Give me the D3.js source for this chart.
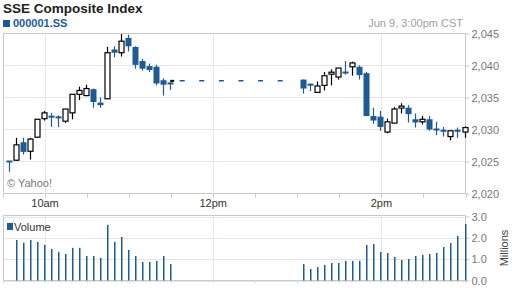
<!DOCTYPE html>
<html>
<head>
<meta charset="utf-8">
<script src="https://cdn.jsdelivr.net/npm/d3@7"></script>
<style>
  body { margin: 0; background: #fff; }
  svg { display: block; font-family: Arial, "Liberation Sans", sans-serif; }
</style>
</head>
<body>
<svg id="chart" width="512" height="288"></svg>
<script>
// =========================
// DATI
// =========================
const times = [
  "09:35", "09:40", "09:45", "09:50", "09:55", "10:00", "10:05", "10:10", "10:15", "10:20", "10:25", "10:30",
  "10:35", "10:40", "10:45", "10:50", "10:55", "11:00", "11:05", "11:10", "11:15", "11:20", "11:25", "11:30",
  "13:05", "13:10", "13:15", "13:20", "13:25", "13:30", "13:35", "13:40", "13:45", "13:50", "13:55", "14:00",
  "14:05", "14:10", "14:15", "14:20", "14:25", "14:30", "14:35", "14:40", "14:45", "14:50", "14:55", "15:00"
];
const opens = [
  2025.0, 2025.2, 2028.0, 2026.6, 2028.8, 2031.7, 2032.0, 2031.9, 2031.3, 2032.6, 2035.5, 2035.3,
  2036.3, 2034.2, 2034.8, 2042.5, 2042.0, 2044.3, 2042.9, 2040.7, 2039.9, 2039.8, 2037.7, 2037.2,
  2037.8, 2037.0, 2035.8, 2036.9, 2038.5, 2038.2, 2038.9, 2039.8, 2039.8, 2038.8, 2032.1, 2032.0,
  2029.6, 2031.0, 2033.2, 2033.4, 2031.6, 2031.2, 2031.6, 2030.0, 2029.8, 2028.9, 2029.8, 2029.6
];
const highs = [
  2025.0, 2028.7, 2028.7, 2028.7, 2031.6, 2032.9, 2032.6, 2032.2, 2033.2, 2035.5, 2036.7, 2037.0,
  2036.4, 2035.0, 2042.9, 2043.0, 2044.9, 2044.8, 2043.0, 2041.0, 2040.3, 2040.1, 2038.0, 2037.4,
  2037.8, 2037.2, 2037.5, 2039.0, 2039.4, 2039.6, 2040.7, 2040.6, 2040.0, 2039.0, 2033.4, 2032.9,
  2031.7, 2033.5, 2034.1, 2033.8, 2032.5, 2032.1, 2032.1, 2031.2, 2030.4, 2029.8, 2030.3, 2030.5
];
const lows = [
  2023.4, 2025.1, 2026.1, 2025.3, 2028.7, 2031.4, 2030.4, 2030.4, 2031.0, 2031.6, 2034.6, 2035.2,
  2033.4, 2033.4, 2034.8, 2041.3, 2041.4, 2042.2, 2039.5, 2039.2, 2039.0, 2036.9, 2035.3, 2036.2,
  2035.6, 2036.0, 2035.8, 2036.1, 2036.9, 2037.8, 2038.6, 2038.4, 2037.8, 2032.1, 2030.9, 2029.8,
  2029.4, 2031.0, 2032.5, 2031.1, 2030.3, 2030.8, 2029.8, 2029.1, 2028.9, 2028.3, 2028.7, 2028.7
];
const closes = [
  2024.9, 2027.6, 2026.5, 2028.5, 2031.6, 2032.6, 2031.9, 2031.6, 2033.2, 2035.5, 2036.1, 2036.4,
  2034.3, 2033.8, 2042.0, 2042.0, 2043.8, 2043.0, 2040.1, 2039.5, 2039.3, 2037.2, 2037.0, 2037.1,
  2036.4, 2036.9, 2036.8, 2038.4, 2038.8, 2039.6, 2038.8, 2040.4, 2038.5, 2032.1, 2031.4, 2030.4,
  2031.2, 2033.2, 2033.5, 2032.4, 2031.1, 2031.6, 2030.0, 2029.9, 2029.7, 2029.8, 2029.7, 2030.3
];
// volume in milioni
const volumes = [
  null, 1.90, 1.77, 1.90, 1.81, 1.67, 1.48, 1.34, 1.24, 1.53, 1.53, 1.15,
  1.15, 1.06, 2.61, 1.81, 2.04, 1.43, 1.15, 0.87, 0.87, 0.92, 1.15, 0.77,
  0.77, 0.54, 0.63, 0.73, 0.82, 0.82, 0.92, 0.92, 0.92, 1.67, 1.71, 1.34,
  1.29, 1.10, 0.96, 1.01, 1.15, 1.20, 1.24, 1.29, 1.57, 1.76, 2.09, 2.65
];
const priceTicks = [2020, 2025, 2030, 2035, 2040, 2045];
const volumeTicks = [0, 1, 2, 3];
const timeLabels = ["10:00", "12:00", "14:00"];
const timeLabelText = ["10am", "12pm", "2pm"];
const breakStart = "11:30";
const breakEnd = "13:00";
const breakLevel = 2037.6;

const blue = "#1d5a96";
const gridColor = "#e3e7ec";
const frameColor = "#c9c9c9";

const parseTime = d3.timeParse("%H:%M");
const data = times.map((t, i) => ({
  time: parseTime(t),
  open: opens[i], high: highs[i], low: lows[i], close: closes[i],
  volume: volumes[i]
}));

// =========================
// SCALE
// =========================
const left = 3, right = 465.5;
const x = d3.scaleTime()
  .domain([parseTime("09:30"), parseTime("15:00")])
  .range([left, right]);

const y = d3.scaleLinear().domain([2020, 2045]).range([193.5, 33.5]);
const yVol = d3.scaleLinear().domain([0, 3]).range([280.5, 216.5]);

const svg = d3.select("#chart");
const halfHours = d3.timeMinute.every(30).range(parseTime("09:30"), parseTime("15:01"));

// =========================
// TITOLO
// =========================
svg.append("text")
  .attr("x", 3).attr("y", 13)
  .attr("font-size", 13.5).attr("font-weight", "bold").attr("fill", "#222")
  .text("SSE Composite Index");

svg.append("rect").attr("x", 3).attr("y", 20).attr("width", 7).attr("height", 7).attr("fill", blue);
svg.append("text")
  .attr("x", 13).attr("y", 27)
  .attr("font-size", 11).attr("font-weight", "bold").attr("fill", blue)
  .text("000001.SS");

svg.append("text")
  .attr("x", 463).attr("y", 27)
  .attr("text-anchor", "end")
  .attr("font-size", 11).attr("fill", "#a0a0a0")
  .text("Jun 9, 3:00pm CST");

// =========================
// PANNELLO PREZZI
// =========================
const main = svg.append("g");

main.selectAll(".hgrid")
  .data(priceTicks)
  .join("line")
  .attr("x1", left).attr("x2", right)
  .attr("y1", d => y(d)).attr("y2", d => y(d))
  .attr("stroke", gridColor);

main.selectAll(".vgrid")
  .data(timeLabels)
  .join("line")
  .attr("x1", d => Math.round(x(parseTime(d))) + 0.5)
  .attr("x2", d => Math.round(x(parseTime(d))) + 0.5)
  .attr("y1", y(2045)).attr("y2", y(2020))
  .attr("stroke", gridColor);

// cornice
main.append("path")
  .attr("d", `M${left + 0.5},${y(2045)}H${right}V${y(2020)}H${left + 0.5}Z`)
  .attr("fill", "none").attr("stroke", frameColor);

// tick in basso ogni 30 minuti
main.selectAll(".xtick")
  .data(halfHours)
  .join("line")
  .attr("x1", d => Math.round(x(d)) + 0.5).attr("x2", d => Math.round(x(d)) + 0.5)
  .attr("y1", y(2020)).attr("y2", y(2020) + 4)
  .attr("stroke", frameColor);

// asse destro
const yAxis = d3.axisRight(y).tickValues(priceTicks).tickSize(4).tickFormat(d3.format(","));
main.append("g")
  .attr("transform", `translate(${right},0)`)
  .call(yAxis)
  .call(g => g.select(".domain").remove())
  .call(g => g.selectAll("line").attr("stroke", frameColor))
  .call(g => g.selectAll("text")
    .attr("font-family", "Arial, 'Liberation Sans', sans-serif")
    .attr("font-size", 11).attr("fill", "#777").attr("x", 6));

main.append("text")
  .attr("x", 7).attr("y", 187)
  .attr("font-size", 11).attr("fill", "#777")
  .text("\u00a9 Yahoo!");

// linea pausa pranzo
const bx0 = x(parseTime(breakStart));
const bx1 = x(parseTime(breakEnd));
main.append("line")
  .attr("x1", bx0).attr("x2", bx1)
  .attr("y1", y(breakLevel)).attr("y2", y(breakLevel))
  .attr("stroke", blue).attr("stroke-width", 1.5)
  .attr("stroke-dasharray", "5 14.6")
  .attr("stroke-dashoffset", 11.1);
main.append("line")
  .attr("x1", bx0 - 1).attr("x2", bx0 + 3)
  .attr("y1", y(breakLevel)).attr("y2", y(breakLevel))
  .attr("stroke", "#000").attr("stroke-width", 2);

// candele
const candles = main.selectAll(".candle")
  .data(data)
  .join("g")
  .attr("class", "candle")
  .attr("transform", d => `translate(${Math.round(x(d.time)) - 1},0)`);

candles.append("line")
  .attr("x1", 0.5).attr("x2", 0.5)
  .attr("y1", d => y(d.high)).attr("y2", d => y(d.low))
  .attr("stroke", d => d.close > d.open ? "#000" : blue)
  .attr("stroke-width", 1.2);

candles.append("rect")
  .attr("x", d => d.close > d.open ? -2 : -2.5)
  .attr("width", d => d.close > d.open ? 5 : 6)
  .attr("y", d => {
    const top = y(Math.max(d.open, d.close));
    const h = y(Math.min(d.open, d.close)) - top;
    return h < 2 ? top - 1 : top;
  })
  .attr("height", d => Math.max(2, y(Math.min(d.open, d.close)) - y(Math.max(d.open, d.close))))
  .attr("fill", d => d.close > d.open ? "#fff" : blue)
  .attr("stroke", d => d.close > d.open ? "#000" : "none")
  .attr("stroke-width", 1.2);

// =========================
// ETICHETTE ORARIE
// =========================
svg.selectAll(".xlabel")
  .data(timeLabels)
  .join("text")
  .attr("x", d => x(parseTime(d)))
  .attr("y", 207)
  .attr("text-anchor", "middle")
  .attr("font-size", 11).attr("fill", "#333")
  .text((d, i) => timeLabelText[i]);

// =========================
// PANNELLO VOLUME
// =========================
const vol = svg.append("g");

vol.selectAll(".hgrid")
  .data(volumeTicks)
  .join("line")
  .attr("x1", left).attr("x2", right)
  .attr("y1", d => Math.round(yVol(d)) + 0.5).attr("y2", d => Math.round(yVol(d)) + 0.5)
  .attr("stroke", gridColor);

vol.selectAll(".vgrid")
  .data(timeLabels)
  .join("line")
  .attr("x1", d => Math.round(x(parseTime(d))) + 0.5)
  .attr("x2", d => Math.round(x(parseTime(d))) + 0.5)
  .attr("y1", 215.5).attr("y2", yVol(0))
  .attr("stroke", gridColor);

vol.append("path")
  .attr("d", `M${left + 0.5},215.5H${right}V${yVol(0)}H${left + 0.5}Z`)
  .attr("fill", "none").attr("stroke", frameColor);

vol.selectAll(".xtick")
  .data(halfHours)
  .join("line")
  .attr("x1", d => Math.round(x(d)) + 0.5).attr("x2", d => Math.round(x(d)) + 0.5)
  .attr("y1", yVol(0)).attr("y2", yVol(0) + 3)
  .attr("stroke", "#e0e0e0");

const yVolAxis = d3.axisRight(yVol).tickValues(volumeTicks).tickSize(4).tickFormat(d3.format(".1f"));
vol.append("g")
  .attr("transform", `translate(${right},0)`)
  .call(yVolAxis)
  .call(g => g.select(".domain").remove())
  .call(g => g.selectAll("line").attr("stroke", frameColor))
  .call(g => g.selectAll("text")
    .attr("font-family", "Arial, 'Liberation Sans', sans-serif")
    .attr("font-size", 11).attr("fill", "#777").attr("x", 6));

vol.append("text")
  .attr("transform", "translate(508,248) rotate(-90)")
  .attr("text-anchor", "middle")
  .attr("font-size", 11).attr("fill", "#444")
  .text("Millions");

vol.selectAll(".vbar")
  .data(data.filter(d => d.volume != null))
  .join("rect")
  .attr("x", d => Math.round(x(d.time)) - 1)
  .attr("width", 1.5)
  .attr("y", d => yVol(d.volume))
  .attr("height", d => yVol(0) - yVol(d.volume))
  .attr("fill", blue);

vol.append("rect").attr("x", 7).attr("y", 223).attr("width", 6).attr("height", 7).attr("fill", blue);
vol.append("text")
  .attr("x", 14).attr("y", 231)
  .attr("font-size", 11).attr("fill", "#333")
  .text("Volume");
</script>
</body>
</html>
